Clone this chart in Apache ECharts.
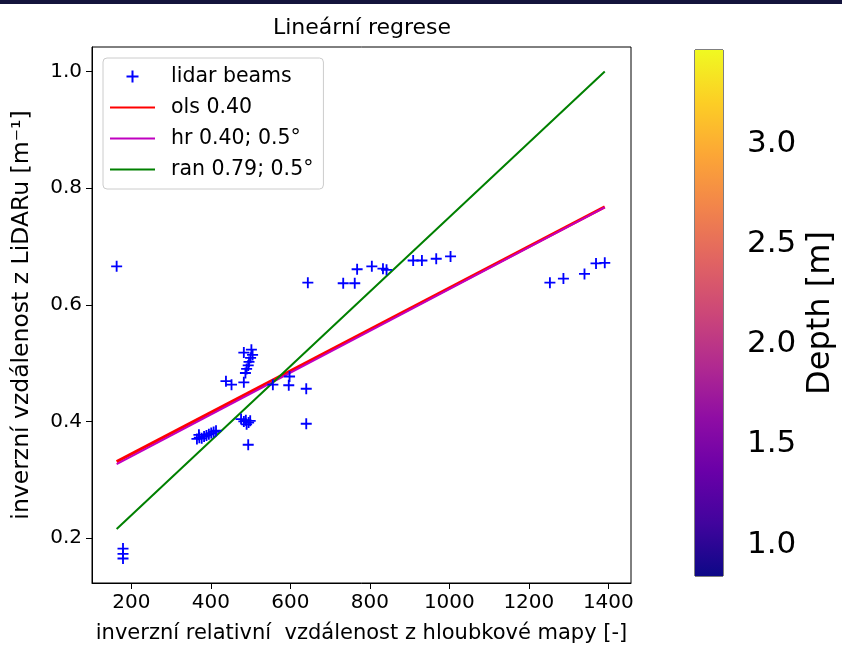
<!DOCTYPE html>
<html>
<head>
<meta charset="utf-8">
<script src="https://cdn.jsdelivr.net/npm/echarts@6/dist/echarts.min.js"></script>
<style>
html,body{margin:0;padding:0;background:#fff;}
#c{width:842px;height:649px;}
</style>
</head>
<body>
<div id="c"></div>
<script>
// ---- data ----
var beamX = [163, 179, 179, 179,
  365, 371, 377, 383, 389, 395, 401, 407, 413, 370,
  438, 452,
  483, 502, 505, 500, 496, 494, 490, 487, 483,
  476, 483, 488, 495, 499, 490,
  494,
  556, 598, 596,
  640, 640, 644,
  733, 762, 768, 805, 833, 842,
  909, 931, 967, 1003,
  1253, 1287, 1340, 1369, 1391];
var beamY = [0.666, 0.182, 0.173, 0.165,
  0.370, 0.372, 0.371, 0.374, 0.376, 0.378, 0.380, 0.382, 0.384, 0.377,
  0.469, 0.463,
  0.518, 0.523, 0.514, 0.509, 0.502, 0.496, 0.490, 0.483, 0.467,
  0.404, 0.400, 0.402, 0.398, 0.401, 0.395,
  0.360,
  0.463, 0.477, 0.462,
  0.456, 0.396, 0.638,
  0.637, 0.637, 0.661, 0.666, 0.662, 0.660,
  0.676, 0.676, 0.679, 0.683,
  0.638, 0.645, 0.653, 0.671, 0.672];
var lineX = [163, 1391];
var olsY = [0.331, 0.768];
var hrY = [0.327, 0.767];
var ranY = [0.2155, 1.0];
var xTicks = [200, 400, 600, 800, 1000, 1200, 1400];
var yTicks = [0.2, 0.4, 0.6, 0.8, 1.0];
var cbTicks = [1.0, 1.5, 2.0, 2.5, 3.0];
var cbRange = [0.843, 3.469];
var seriesNames = ['lidar beams', 'ols 0.40', 'hr 0.40; 0.5°', 'ran 0.79; 0.5°'];

var FONT = 'DejaVu Sans';
var plusPath = 'path://M5,0 h2 v5 h5 v2 h-5 v5 h-2 v-5 h-5 v-2 h5 z';
var lineIcon = 'path://M0,0 H45 V2 H0 Z';
var plasma = [
  [0.0, '#0d0887'], [0.1, '#41049d'], [0.2, '#6a00a8'], [0.3, '#8f0da4'],
  [0.4, '#b12a90'], [0.5, '#cc4778'], [0.6, '#e16462'], [0.7, '#f2844b'],
  [0.8, '#fca636'], [0.9, '#fcce25'], [1.0, '#f0f921']
];

function pairs(xs, ys) { return xs.map(function (x, i) { return [x, ys[i]]; }); }

var chart = echarts.init(document.getElementById('c'), null, {renderer: 'canvas'});
var option = {
  animation: false,
  backgroundColor: '#fff',
  textStyle: {fontFamily: FONT, color: '#000'},
  title: {
    text: 'Lineární regrese', left: 357, top: 12, textAlign: 'center',
    textStyle: {fontFamily: FONT, fontSize: 22, fontWeight: 'normal', color: '#000'}
  },
  graphic: [
    {type: 'rect', left: 0, top: 0, shape: {width: 842, height: 4}, style: {fill: '#14143c'}, silent: true}
  ],
  legend: {
    orient: 'vertical', left: 103, top: 58,
    itemWidth: 45, itemHeight: 12, itemGap: 10,
    padding: [8, 10, 9, 7],
    borderColor: '#cccccc', borderWidth: 1, borderRadius: 4,
    backgroundColor: 'rgba(255,255,255,0.85)',
    textStyle: {fontFamily: FONT, fontSize: 20.5, color: '#000', lineHeight: 20.5, padding: [0, 0, 0, 11]},
    data: [
      {name: seriesNames[0], icon: plusPath, itemStyle: {color: '#0000ff'}},
      {name: seriesNames[1], icon: lineIcon, itemStyle: {color: '#ff0000'}},
      {name: seriesNames[2], icon: lineIcon, itemStyle: {color: '#c000c0'}},
      {name: seriesNames[3], icon: lineIcon, itemStyle: {color: '#008000'}}
    ]
  },
  grid: [
    {left: 92, top: 47, width: 539, height: 536, show: true, borderColor: '#000', borderWidth: 1, backgroundColor: 'transparent'},
    {left: 695, top: 50, width: 28, height: 526, show: true, borderColor: '#000', borderWidth: 1}
  ],
  xAxis: [
    {
      gridIndex: 0, type: 'value', min: 101, max: 1457,
      name: 'inverzní relativní  vzdálenost z hloubkové mapy [-]',
      nameLocation: 'middle', nameGap: 40,
      nameTextStyle: {fontFamily: FONT, fontSize: 21, color: '#000'},
      axisLine: {lineStyle: {color: '#000', width: 1}},
      axisTick: {inside: false, length: 6, lineStyle: {color: '#000'}, customValues: xTicks},
      axisLabel: {fontFamily: FONT, fontSize: 20, color: '#000', margin: 10, customValues: xTicks,
        formatter: function (v) { return String(Math.round(v)); }},
      splitLine: {show: false}
    },
    {gridIndex: 1, type: 'value', min: 0, max: 1, show: false}
  ],
  yAxis: [
    {
      gridIndex: 0, type: 'value', min: 0.123, max: 1.042,
      name: 'inverzní vzdálenost z LiDARu [m⁻¹]',
      nameLocation: 'middle', nameGap: 58, nameRotate: 90,
      nameTextStyle: {fontFamily: FONT, fontSize: 23.5, color: '#000'},
      axisLine: {lineStyle: {color: '#000', width: 1}},
      axisTick: {inside: false, length: 6, lineStyle: {color: '#000'}, customValues: yTicks},
      axisLabel: {fontFamily: FONT, fontSize: 20, color: '#000', margin: 10, customValues: yTicks,
        formatter: function (v) { return v.toFixed(1); }},
      splitLine: {show: false}
    },
    {
      gridIndex: 1, type: 'value', min: cbRange[0], max: cbRange[1], position: 'right',
      name: 'Depth [m]', nameLocation: 'middle', nameGap: 82, nameRotate: 90,
      nameTextStyle: {fontFamily: FONT, fontSize: 32, color: '#000'},
      axisLine: {show: false},
      axisTick: {inside: false, length: 9, lineStyle: {color: '#000'}, customValues: cbTicks},
      axisLabel: {fontFamily: FONT, fontSize: 31, color: '#000', margin: 24, customValues: cbTicks,
        formatter: function (v) { return v.toFixed(1); }},
      splitLine: {show: false}
    }
  ],
  series: [
    {
      name: seriesNames[0], type: 'scatter', xAxisIndex: 0, yAxisIndex: 0,
      symbol: plusPath, symbolSize: 11, z: 5,
      itemStyle: {color: '#0000ff', opacity: 1},
      data: pairs(beamX, beamY)
    },
    {
      name: seriesNames[1], type: 'line', xAxisIndex: 0, yAxisIndex: 0,
      symbol: 'none', lineStyle: {color: '#ff0000', width: 3}, itemStyle: {color: '#ff0000'},
      data: pairs(lineX, olsY), z: 3
    },
    {
      name: seriesNames[2], type: 'line', xAxisIndex: 0, yAxisIndex: 0,
      symbol: 'none', lineStyle: {color: '#c000c0', width: 2}, itemStyle: {color: '#c000c0'},
      data: pairs(lineX, hrY), z: 4
    },
    {
      name: seriesNames[3], type: 'line', xAxisIndex: 0, yAxisIndex: 0,
      symbol: 'none', lineStyle: {color: '#008000', width: 2}, itemStyle: {color: '#008000'},
      data: pairs(lineX, ranY), z: 4
    },
    {
      name: 'colorbar', type: 'custom', xAxisIndex: 1, yAxisIndex: 1, silent: true,
      data: [[0, cbRange[0], 1, cbRange[1]]],
      renderItem: function (params, api) {
        var p1 = api.coord([api.value(0), api.value(1)]);
        var p2 = api.coord([api.value(2), api.value(3)]);
        return {
          type: 'rect',
          shape: {x: p1[0], y: p2[1], width: p2[0] - p1[0], height: p1[1] - p2[1]},
          style: {fill: new echarts.graphic.LinearGradient(0, 1, 0, 0,
            plasma.map(function (s) { return {offset: s[0], color: s[1]}; }))}
        };
      }
    }
  ]
};
chart.setOption(option);
</script>
</body>
</html>
